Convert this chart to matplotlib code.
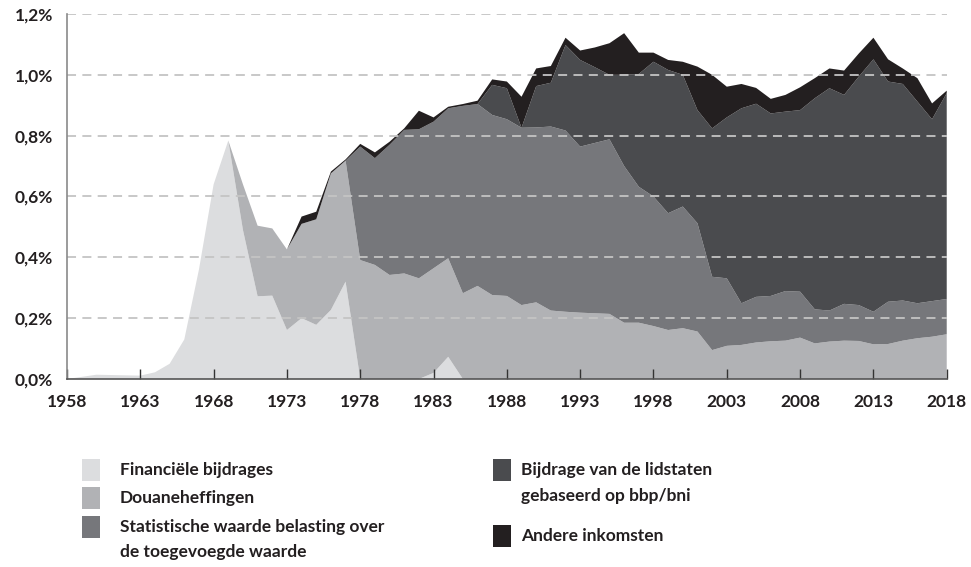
import matplotlib
matplotlib.use("Agg")
import matplotlib.pyplot as plt
from matplotlib.patches import Rectangle

# Data: EU revenue by source, % of GNI
years = list(range(1958, 2019))

financial = [0.0, 0.007, 0.014, 0.013, 0.012, 0.011, 0.022, 0.05, 0.13, 0.36,
             0.64, 0.784, 0.49, 0.272, 0.274, 0.161, 0.20, 0.178, 0.227, 0.32,
             0.0, 0.0, 0.0, 0.0, 0.0, 0.02, 0.073, 0.0, 0.0, 0.0,
             0.0, 0.0, 0.0, 0.0, 0.0, 0.0, 0.0, 0.0, 0.0, 0.0,
             0.0, 0.0, 0.0, 0.0, 0.0, 0.0, 0.0, 0.0, 0.0, 0.0,
             0.0, 0.0, 0.0, 0.0, 0.0, 0.0, 0.0, 0.0, 0.0, 0.0,
             0.0]

customs = [0.0, 0.0, 0.0, 0.0, 0.0, 0.0, 0.0, 0.0, 0.0, 0.0,
           0.0, 0.0, 0.15, 0.232, 0.221, 0.265, 0.31, 0.347, 0.449, 0.398,
           0.391, 0.375, 0.342, 0.347, 0.331, 0.344, 0.324, 0.282, 0.306, 0.276,
           0.273, 0.243, 0.252, 0.225, 0.221, 0.218, 0.216, 0.214, 0.185, 0.185,
           0.174, 0.161, 0.167, 0.156, 0.095, 0.109, 0.112, 0.12, 0.124, 0.126,
           0.136, 0.117, 0.123, 0.126, 0.125, 0.114, 0.115, 0.126, 0.134, 0.139,
           0.147]

vat = [0.0, 0.0, 0.0, 0.0, 0.0, 0.0, 0.0, 0.0, 0.0, 0.0,
       0.0, 0.0, 0.0, 0.0, 0.0, 0.0, 0.0, 0.0, 0.0, 0.0,
       0.373, 0.351, 0.428, 0.472, 0.49, 0.482, 0.493, 0.616, 0.598, 0.592,
       0.581, 0.583, 0.575, 0.605, 0.596, 0.546, 0.56, 0.574, 0.515, 0.447,
       0.426, 0.384, 0.40, 0.356, 0.241, 0.222, 0.137, 0.15, 0.149, 0.163,
       0.151, 0.112, 0.102, 0.121, 0.118, 0.107, 0.139, 0.132, 0.115, 0.117,
       0.116]

gni = [0.0, 0.0, 0.0, 0.0, 0.0, 0.0, 0.0, 0.0, 0.0, 0.0,
       0.0, 0.0, 0.0, 0.0, 0.0, 0.0, 0.0, 0.0, 0.0, 0.0,
       0.0, 0.0, 0.0, 0.0, 0.0, 0.0, 0.0, 0.0, 0.0, 0.099,
       0.102, 0.0, 0.136, 0.144, 0.281, 0.285, 0.249, 0.212, 0.30, 0.371,
       0.443, 0.471, 0.433, 0.372, 0.488, 0.529, 0.641, 0.635, 0.60, 0.59,
       0.597, 0.694, 0.731, 0.687, 0.751, 0.83, 0.724, 0.712, 0.663, 0.598,
       0.677]

other = [0.0, 0.0, 0.0, 0.0, 0.0, 0.0, 0.0, 0.0, 0.0, 0.0,
         0.0, 0.0, 0.0, 0.0, 0.0, 0.0, 0.024, 0.025, 0.006, 0.004,
         0.009, 0.019, 0.01, 0.005, 0.061, 0.014, 0.005, 0.006, 0.011, 0.018,
         0.022, 0.102, 0.058, 0.055, 0.024, 0.031, 0.065, 0.104, 0.137, 0.07,
         0.03, 0.033, 0.043, 0.143, 0.176, 0.101, 0.08, 0.052, 0.048, 0.055,
         0.075, 0.066, 0.065, 0.08, 0.076, 0.071, 0.073, 0.051, 0.077, 0.052,
         0.008]

labels = ["Financiële bijdrages", "Douaneheffingen",
          "Statistische waarde belasting over\nde toegevoegde waarde",
          "Bijdrage van de lidstaten\ngebaseerd op bbp/bni", "Andere inkomsten"]
colors = ["#dcdddf", "#b1b2b5", "#76777b", "#4a4b4e", "#231f20"]

y_ticks = [0.0, 0.2, 0.4, 0.6, 0.8, 1.0, 1.2]
y_labels = ["0,0%", "0,2%", "0,4%", "0,6%", "0,8%", "1,0%", "1,2%"]
x_ticks = list(range(1958, 2019, 5))

plt.rcParams['font.family'] = ['Lato', 'DejaVu Sans']
text_color = "#231f20"

fig = plt.figure(figsize=(9.71, 5.67), dpi=100)
ax = fig.add_axes([0.069, 0.3316, 0.906, 0.6437])

series = [financial, customs, vat, gni, other]
ax.stackplot(years, *series, colors=colors, linewidth=0)

# dashed gridlines drawn above the areas
for y in y_ticks[1:]:
    ax.axhline(y, color="#c4c4c4", linewidth=1.3, linestyle=(0, (5, 3.5)), zorder=5)

ax.set_xlim(1958, 2018)
ax.set_ylim(0, 1.2)
ax.set_yticks(y_ticks)
ax.set_yticklabels(y_labels)
ax.set_xticks(x_ticks)
ax.tick_params(axis='y', length=0, pad=10, labelsize=12.5, labelcolor=text_color)
ax.tick_params(axis='x', direction='in', length=7, width=1, color="#333333",
               pad=10.5, labelsize=12.5, labelcolor=text_color)
for lab in ax.get_xticklabels() + ax.get_yticklabels():
    lab.set_fontweight('bold')

for side in ['top', 'right']:
    ax.spines[side].set_visible(False)
ax.spines['left'].set_color("#8a8a8a")
ax.spines['left'].set_linewidth(1.2)
ax.spines['bottom'].set_color("#555555")
ax.spines['bottom'].set_linewidth(1.2)
ax.spines['left'].set_zorder(6)
ax.spines['bottom'].set_zorder(6)

# manual legend in two columns (pixel positions of square, text start and line centres)
W, H = 971.0, 567.0
square_pos = [(82, 459), (82, 487), (82, 516), (493, 459), (493, 525)]
text_x = [120, 120, 120, 521, 521]
line_y = [[470], [498], [527, 552], [470, 496], [536]]
for lab, col, (px, py), tx, ys in zip(labels, colors, square_pos, text_x, line_y):
    fig.patches.append(Rectangle((px / W, 1 - (py + 22) / H), 18 / W, 22 / H,
                                 transform=fig.transFigure, facecolor=col,
                                 edgecolor='none'))
    for line, ly in zip(lab.split("\n"), ys):
        fig.text(tx / W, 1 - ly / H, line, ha='left', va='center',
                 fontsize=12.5, fontweight='bold', color=text_color)

fig.savefig("out.png", dpi=100)
